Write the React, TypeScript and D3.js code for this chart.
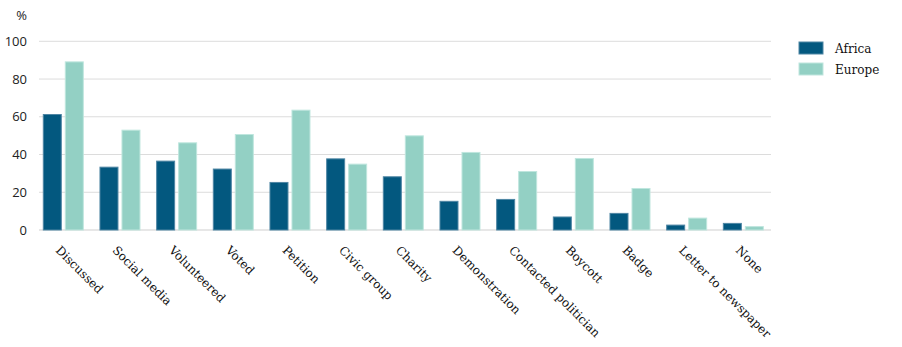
import React from "react";
import * as d3 from "d3";

const categories = ["Discussed", "Social media", "Volunteered", "Voted", "Petition", "Civic group", "Charity", "Demonstration", "Contacted politician", "Boycott", "Badge", "Letter to newspaper", "None"];
const africa = [61.2, 33.3, 36.5, 32.3, 25.2, 37.7, 28.2, 15.2, 16.2, 6.9, 8.8, 2.6, 3.5];
const europe = [89.1, 52.9, 46.2, 50.6, 63.5, 34.9, 49.9, 41.1, 31.0, 37.9, 22.0, 6.3, 1.8];
const seriesNames = ["Africa", "Europe"];
const yTicks = [0, 20, 40, 60, 80, 100];

const colors = ["#03587f", "#93d0c4"];
const strokes = ["#4f86a4", "#bfe6de"];

export default function App() {
  const W = 902, H = 347;
  const left = 39, gridRight = 771;
  const step = 56.67;
  const x = d3.scaleBand<string>().domain(categories).range([left, left + step * categories.length]).paddingInner(0).paddingOuter(0);
  const y = d3.scaleLinear().domain([0, 100]).range([230, 41.3]);
  const series = [africa, europe];
  const barW = 18;
  const gap = 4;
  const off = 4.3;

  return (
    <svg width={W} height={H} style={{ position: "absolute", left: 0, top: 0 }}>
      <rect width={W} height={H} fill="#fff" />
      {yTicks.map((t) => (
        <g key={t}>
          <line x1={left} x2={gridRight} y1={y(t)} y2={y(t)} stroke={t === 0 ? "#cfcfcf" : "#dcdcdc"} strokeWidth={1} />
          <text x={27} y={y(t) + 4.5} textAnchor="end" fontFamily="'Open Sans', sans-serif" fontSize={13} fill="#222">{t}</text>
        </g>
      ))}
      <text x={27} y={20} textAnchor="end" fontFamily="'Open Sans', sans-serif" fontSize={13} fill="#222">%</text>
      {categories.map((c, i) => (
        <g key={c}>
          {series.map((s, j) => (
            <rect key={j} x={(x(c) as number) + off + j * (barW + gap)} y={y(s[i])} width={barW} height={y(0) - y(s[i])} fill={colors[j]} stroke={strokes[j]} strokeWidth={1} />
          ))}
          <text transform={`translate(${(x(c) as number) + 16},${251}) rotate(45)`} fontFamily="'DejaVu Serif', serif" fontSize={12} fill="#111">{c}</text>
        </g>
      ))}
      {seriesNames.map((n, j) => (
        <g key={n}>
          <rect x={799} y={42 + j * 21} width={24} height={12} fill={colors[j]} stroke={strokes[j]} strokeWidth={1} />
          <text x={835} y={52.5 + j * 21} fontFamily="'DejaVu Serif', serif" fontSize={12} fill="#111">{n}</text>
        </g>
      ))}
    </svg>
  );
}
